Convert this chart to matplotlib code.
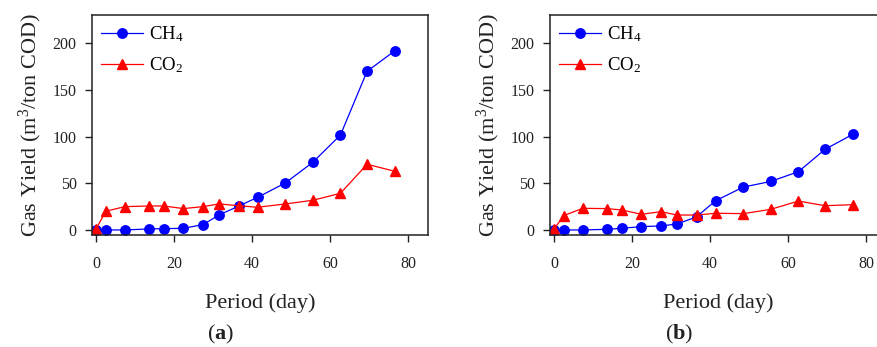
import matplotlib
matplotlib.use('Agg')
import matplotlib.pyplot as plt

plt.rcParams['font.family'] = ['Liberation Serif', 'DejaVu Serif']
plt.rcParams['mathtext.fontset'] = 'custom'
plt.rcParams['mathtext.rm'] = 'Liberation Serif'
plt.rcParams['mathtext.it'] = 'Liberation Serif:italic'
plt.rcParams['mathtext.bf'] = 'Liberation Serif:bold'

# days of sampling
days = [0, 2.5, 7.4, 13.6, 17.4, 22.4, 27.4, 31.5, 36.5, 41.4, 48.5, 55.5, 62.6, 69.4, 76.5]

# panel (a)
ch4_a = [0, 0, 0, 1.1, 1.4, 1.8, 5.7, 16, 25.5, 35, 50.4, 72.5, 101.8, 170, 192]
co2_a = [0.7, 20, 25, 25.7, 25.7, 22.9, 25, 27.9, 26, 24.3, 27.9, 31.8, 39.3, 70.4, 62.9]

# panel (b)
ch4_b = [0, 0, 0, 0.7, 1.8, 3.6, 4.3, 6.4, 14, 31.4, 46, 52, 62.5, 86.4, 102.5]
co2_b = [0.7, 15.4, 23.2, 22.9, 21.4, 16.8, 19.6, 16, 16, 17.9, 17.5, 22.1, 31, 26, 27.1]

panels = [('a', ch4_a, co2_a, 92), ('b', ch4_b, co2_b, 550)]

W, H = 877, 347
fig = plt.figure(figsize=(W / 100, H / 100), dpi=100)

for tag, ch4, co2, left in panels:
    ax = fig.add_axes([left / W, (H - 235) / H, 336 / W, 220 / H])
    ax.plot(days, ch4, color='#0000ff', marker='o', markersize=6.8, lw=0.9, label='CH$_4$')
    ax.plot(days, co2, color='#ff0000', marker='^', markersize=7, lw=0.9, label='CO$_2$')
    ax.set_xlim(-1, 85)
    ax.set_ylim(-5.4, 230.4)
    ax.set_xticks([0, 20, 40, 60, 80])
    ax.set_yticks([0, 50, 100, 150, 200])
    ax.tick_params(axis='x', length=5, width=1, pad=10, labelsize=11.5, colors='#222222')
    ax.tick_params(axis='y', length=5, width=1, pad=6, labelsize=11.5, colors='#222222')
    for sp in ax.spines.values():
        sp.set_linewidth(1.1)
        sp.set_color('#222222')
    ax.set_ylabel('Gas Yield (m$^3$/ton COD)', fontsize=16, color='#222222', labelpad=6)
    ax.legend(loc='upper left', frameon=False, fontsize=13.5, handlelength=2.2,
              handletextpad=0.35, labelspacing=0.6, borderaxespad=0.2, borderpad=0.3)
    cx = (left + 168) / W
    fig.text(cx, 1 - 303 / H, 'Period (day)', ha='center', va='center', fontsize=16, color='#222222')
    fig.text((left + 115) / W, 1 - 334 / H, '($\\mathbf{%s}$)' % tag, ha='left', va='center',
             fontsize=16, color='#222222')

fig.savefig('out.png', dpi=100)
